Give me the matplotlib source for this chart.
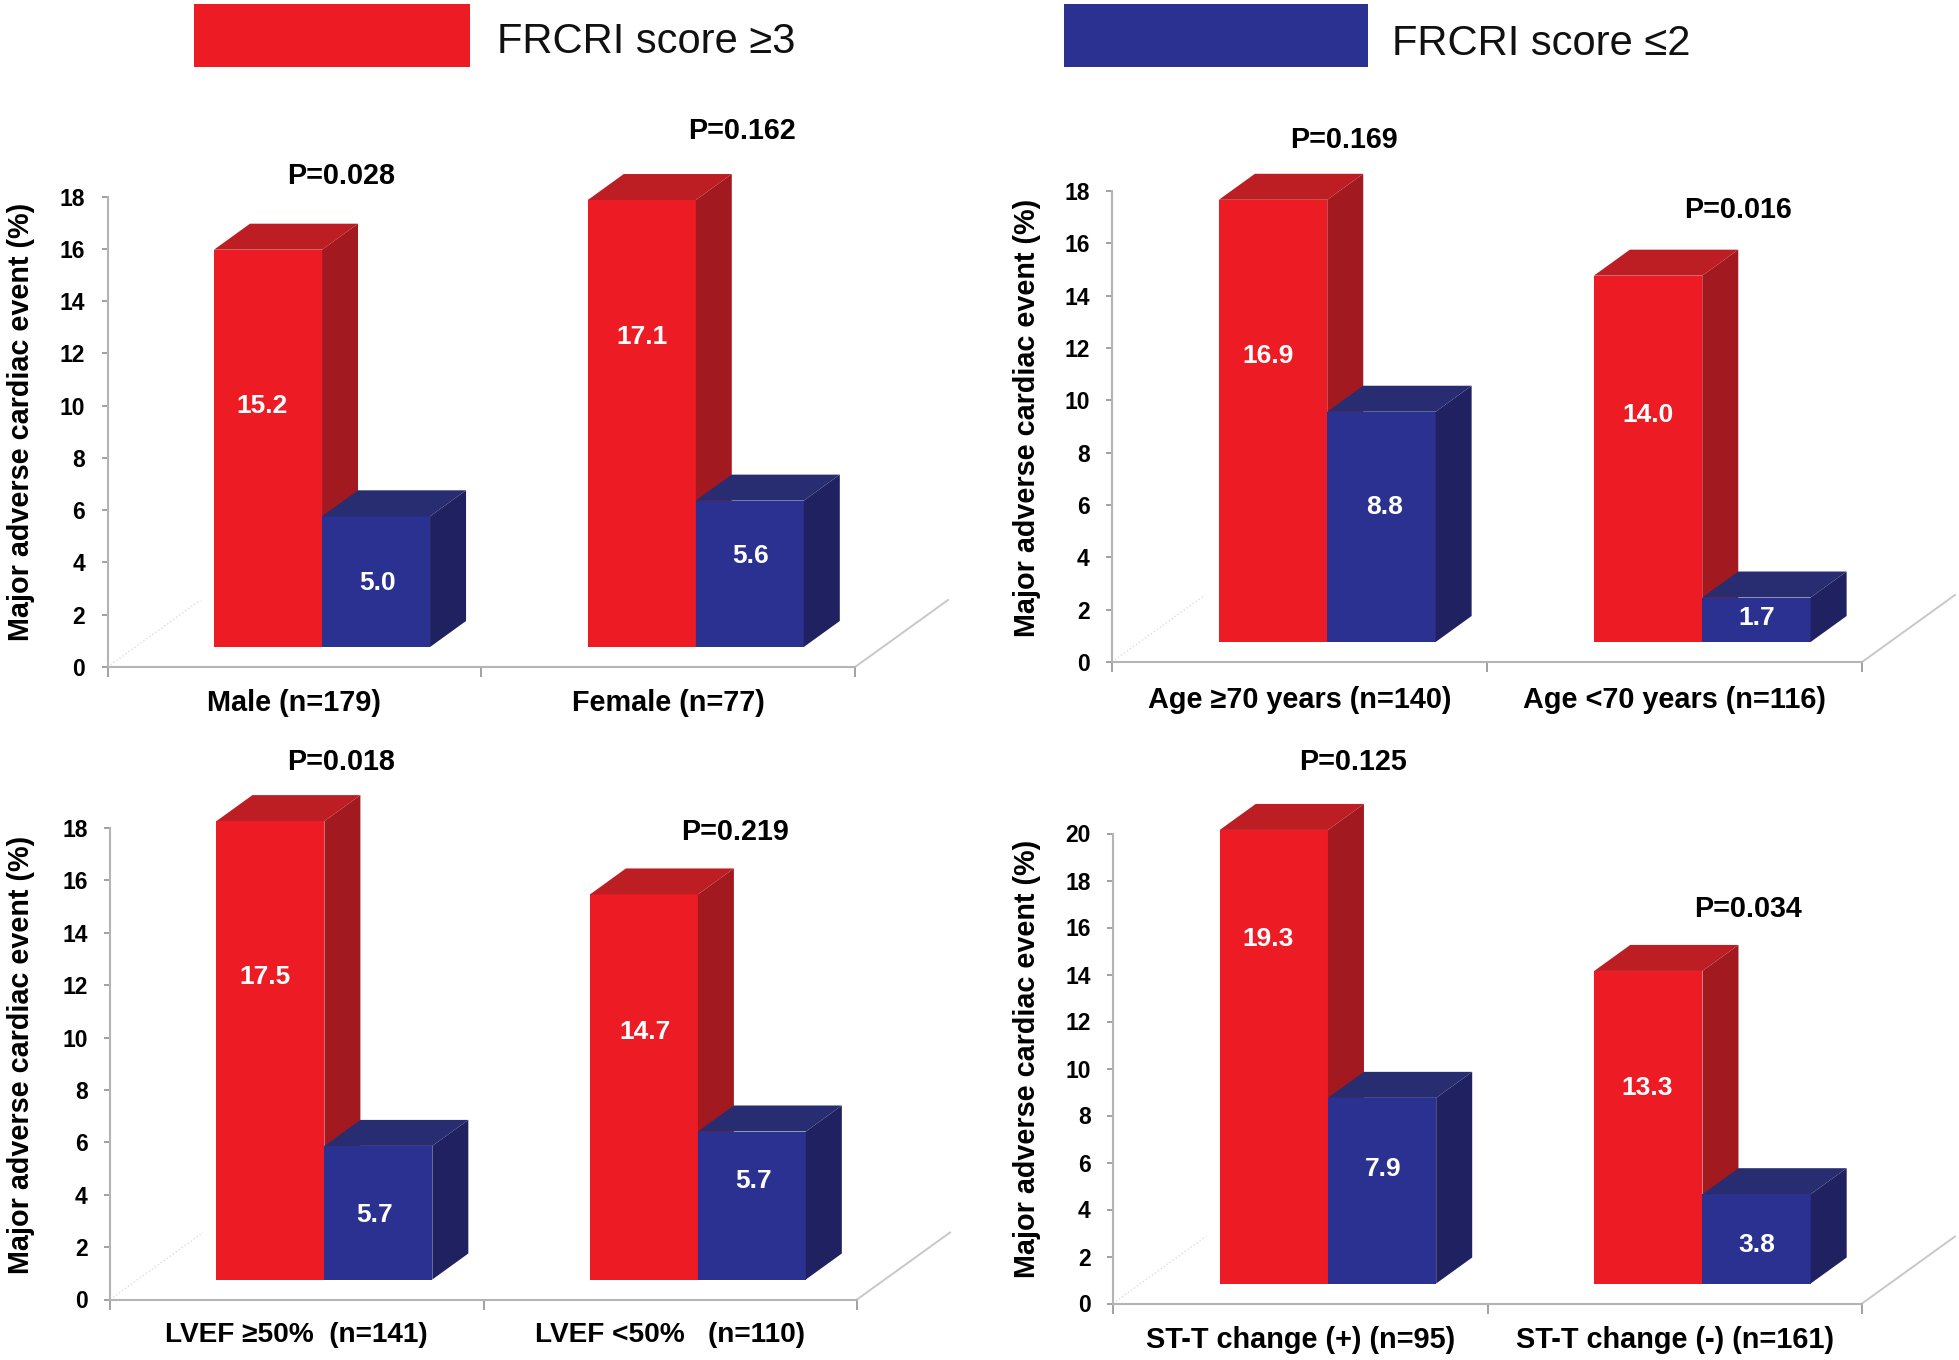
import matplotlib
matplotlib.use('Agg')
import matplotlib.pyplot as plt
from matplotlib.patches import Polygon, Rectangle

plt.rcParams['font.family'] = ['Liberation Sans', 'DejaVu Sans']

# data
high_male_female = [15.2, 17.1]
low_male_female = [5.0, 5.6]
high_age = [16.9, 14.0]
low_age = [8.8, 1.7]
high_lvef = [17.5, 14.7]
low_lvef = [5.7, 5.7]
low_lvef_drawn = [5.1, 5.65]  # the first blue bar is drawn shorter than its printed value
high_stt = [19.3, 13.3]
low_stt = [7.9, 3.8]

cats_male_female = ['Male (n=179)', 'Female (n=77)']
cats_age = ['Age ≥70 years (n=140)', 'Age <70 years (n=116)']
cats_lvef = ['LVEF ≥50%  (n=141)', 'LVEF <50%   (n=110)']
cats_stt = ['ST-T change (+) (n=95)', 'ST-T change (-) (n=161)']

p_male_female = ['P=0.028', 'P=0.162']
p_age = ['P=0.169', 'P=0.016']
p_lvef = ['P=0.018', 'P=0.219']
p_stt = ['P=0.125', 'P=0.034']

yticks_18 = list(range(0, 19, 2))
yticks_20 = list(range(0, 21, 2))

ylabel = 'Major adverse cardiac event (%)'
legend_high = 'FRCRI score ≥3'
legend_low = 'FRCRI score ≤2'

# layout, all in reference pixels
W, H = 1959, 1360
SX = W / 1568.  # text spots
SY = H / 1089.
RED, RED_TOP, RED_SIDE = '#ed1c24', '#bd1e24', '#a2191f'
BLUE, BLUE_TOP, BLUE_SIDE = '#2b3190', '#282c70', '#1f2160'
GREY = '#b4b4b4'
BAR_LEFT = 0.285
BAR_W = 0.289
DEPTH_X, DEPTH_Y = 36, 26
FLOOR_Y = 20
EDGE_X, EDGE_Y = 93, 67
TEXT_DY = 2  # centred text sits a bit high, in shrunk pixels


def make_panel(fig, box, high, low, cats, ticks, cat_size=20.8, cat_pad=16):
    '''
    Draw one fake-3D bar panel. box is left, right, y of tick 0, y of top tick in pixels
    '''
    left, right, y0, ytop = box
    ax = fig.add_axes([left / W, 1 - y0 / H, (right - left) / W, (y0 - ytop) / H])
    ax.set_xlim(0, 2)
    ax.set_ylim(0, ticks[-1])
    ax.patch.set_alpha(0)

    ux = (right - left) / 2.
    uy = (y0 - ytop) / float(ticks[-1])
    dx, dy = DEPTH_X / ux, DEPTH_Y / uy
    floor = FLOOR_Y / uy

    def draw_bar(x, v, front, top, side):
        ax.bar(x, v, BAR_W, bottom=floor, align='edge', color=front, clip_on=False, zorder=3)
        x1 = x + BAR_W
        ax.add_patch(Polygon([(x1, floor), (x1 + dx, floor + dy), (x1 + dx, floor + v + dy), (x1, floor + v)],
                             color=side, lw=0, clip_on=False, zorder=3))
        ax.add_patch(Polygon([(x, floor + v), (x + dx, floor + v + dy), (x1 + dx, floor + v + dy), (x1, floor + v)],
                             color=top, lw=0, clip_on=False, zorder=3))

    for i in range(len(high)):
        draw_bar(i + BAR_LEFT, high[i], RED, RED_TOP, RED_SIDE)
        draw_bar(i + BAR_LEFT + BAR_W, low[i], BLUE, BLUE_TOP, BLUE_SIDE)

    # floor edges going back
    ax.plot([2, 2 + EDGE_X / ux], [0, EDGE_Y / uy], color='#c8c8c8', lw=1.4, clip_on=False, zorder=1)
    ax.plot([0, EDGE_X / ux], [0, EDGE_Y / uy], color='#dddddd', lw=1, ls=':', clip_on=False, zorder=1)

    for s in ['top', 'right']:
        ax.spines[s].set_visible(False)
    for s in ['left', 'bottom']:
        ax.spines[s].set_color(GREY)
        ax.spines[s].set_linewidth(1.5)

    ax.set_yticks(ticks)
    ax.tick_params(axis='y', length=4, width=1.3, color='#9a9a9a', pad=12)
    for t in ax.get_yticklabels():
        t.set_fontsize(16.5)
        t.set_fontweight('bold')

    ax.set_xticks([0, 1, 2])
    ax.set_xticklabels([])
    ax.tick_params(axis='x', which='major', length=7, width=1.3, color='#9a9a9a')
    ax.set_xticks([0.5, 1.5], minor=True)
    ax.set_xticklabels(cats, minor=True, fontsize=cat_size, fontweight='bold')
    ax.tick_params(axis='x', which='minor', length=0, pad=cat_pad)
    return ax


fig = plt.figure(figsize=(W / 100., H / 100.), dpi=100, facecolor='white')

make_panel(fig, (107.5, 855, 667, 196.5), high_male_female, low_male_female, cats_male_female, yticks_18)
make_panel(fig, (1112, 1862, 662, 191), high_age, low_age, cats_age, yticks_18, cat_pad=17.5)
make_panel(fig, (110, 857, 1299.5, 828), high_lvef, low_lvef_drawn, cats_lvef, yticks_18, cat_size=20.2, cat_pad=16.5)
make_panel(fig, (1113, 1862, 1303.5, 833.5), high_stt, low_stt, cats_stt, yticks_20)

# overlay for legend and free floating text, in shrunk picture coordinates
over = fig.add_axes([0, 0, 1, 1], zorder=10)
over.set_xlim(0, W / SX)
over.set_ylim(H / SY, 0)
over.axis('off')

over.add_patch(Rectangle((155.5, 3), 220.5, 51, color=RED, lw=0))
over.add_patch(Rectangle((851.5, 3), 243.5, 51, color=BLUE, lw=0))
over.text(398, 32 + TEXT_DY, legend_high, fontsize=30, va='center', ha='left', color='#111111')
over.text(1114, 33 + TEXT_DY, legend_low, fontsize=30, va='center', ha='left', color='#111111')

panel_text = [
    (16.5, 338, p_male_female, [(273, 139), (594, 103)],
     high_male_female, low_male_female, [(210, 323), (302, 465), (514, 268), (601, 443)]),
    (822, 335, p_age, [(1076, 110), (1391, 166)],
     high_age, low_age, [(1015, 283), (1108, 404), (1319, 330), (1406, 493)]),
    (16.5, 845, p_lvef, [(273, 608), (588, 664)],
     high_lvef, low_lvef, [(212, 780), (300, 971), (516, 824), (603, 944)]),
    (822, 848, p_stt, [(1083, 608), (1399, 726)],
     high_stt, low_stt, [(1015, 750), (1107, 934), (1318, 869), (1406, 995)]),
]

for lab_x, lab_y, pvals, p_spots, high, low, val_spots in panel_text:
    over.text(lab_x, lab_y, ylabel, rotation=90, fontsize=20.7, fontweight='bold', ha='center', va='center')
    for p, (x, y) in zip(pvals, p_spots):
        over.text(x, y + TEXT_DY, p, fontsize=20.7, fontweight='bold', ha='center', va='center')
    vals = [high[0], low[0], high[1], low[1]]
    for v, (x, y) in zip(vals, val_spots):
        over.text(x, y + TEXT_DY, '%.1f' % v, fontsize=19, fontweight='bold', color='white', ha='center', va='center')

fig.savefig('out.png', dpi=100)
